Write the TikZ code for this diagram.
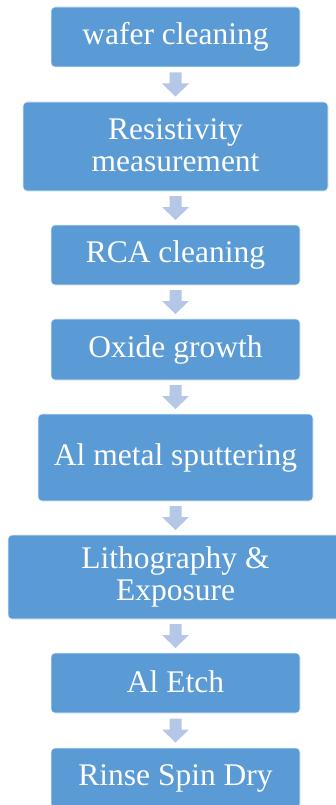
\documentclass[tikz,border=0pt]{standalone}
\usepackage{fontspec}
\setmainfont{Liberation Serif}
\usetikzlibrary{calc}
\definecolor{boxblue}{HTML}{5B9BD5}
\definecolor{arrblue}{HTML}{B4C7E7}
\newcommand{\lnstrut}{\rule[-4pt]{0pt}{26pt}}
\tikzset{
  stepbox/.style={rectangle, rounded corners=4pt, fill=boxblue, draw=white!85!boxblue, line width=0.6pt,
    text=white, align=center, inner sep=0pt,
    font=\fontsize{31.5}{32.5}\selectfont},
  flowarrow/.style={fill=arrblue}
}
\newcommand{\blockarrow}[2]{%
  \fill[flowarrow] ($(#1.south)!0.5!(#2.north)$) ++(-6,-12) -- ++(12,0) -- ++(0,11) -- ++(7.5,0)
    -- ++(-13.5,13) -- ++(-13.5,-13) -- ++(7.5,0) -- cycle;}
\begin{document}
\begin{tikzpicture}[x=1pt,y=-1pt]
\useasboundingbox (0,0) rectangle (335,805);
\node[stepbox, minimum width=249, minimum height=60] (b1) at (175.5,37) {\lnstrut wafer cleaning};
\node[stepbox, minimum width=305, minimum height=89] (b2) at (175.5,146.5) {\lnstrut Resistivity\\\lnstrut measurement};
\node[stepbox, minimum width=249, minimum height=60] (b3) at (175.5,255) {\lnstrut RCA cleaning};
\node[stepbox, minimum width=249, minimum height=61] (b4) at (175.5,349.5) {\lnstrut Oxide growth};
\node[stepbox, minimum width=275, minimum height=87] (b5) at (175.5,457.5) {\lnstrut Al metal sputtering};
\node[stepbox, minimum width=335, minimum height=84] (b6) at (175.5,577) {\lnstrut Lithography \&\\\lnstrut Exposure};
\node[stepbox, minimum width=249, minimum height=60] (b7) at (175.5,683) {\lnstrut Al Etch};
\node[stepbox, minimum width=249, minimum height=60] (b8) at (175.5,778) {\lnstrut Rinse Spin Dry};
\blockarrow{b1}{b2}
\blockarrow{b2}{b3}
\blockarrow{b3}{b4}
\blockarrow{b4}{b5}
\blockarrow{b5}{b6}
\blockarrow{b6}{b7}
\blockarrow{b7}{b8}
\end{tikzpicture}
\end{document}
